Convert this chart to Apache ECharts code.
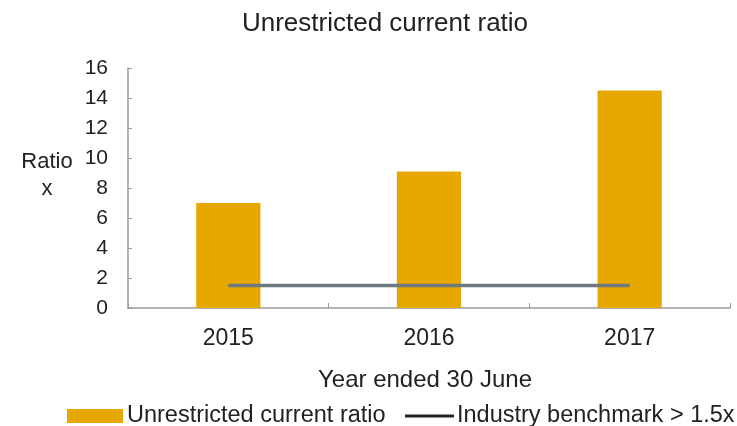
<!DOCTYPE html>
<html>
<head>
<meta charset="utf-8">
<script src="https://cdn.jsdelivr.net/npm/echarts@6/dist/echarts.min.js"></script>
<style>
  html, body { margin: 0; padding: 0; background: #fff; }
  #chart { width: 737px; height: 426px; }
</style>
</head>
<body>
<div id="chart"></div>
<script>
// Years on the category axis
const years = ['2015', '2016', '2017'];
// Unrestricted current ratio per year
const currentRatio = [7.0, 9.1, 14.5];
// Industry benchmark level
const benchmark = [1.5, 1.5, 1.5];
// Value axis ticks
const yMin = 0, yMax = 16, yStep = 2;

const FONT = '"Liberation Sans", Arial, sans-serif';
const TEXT = '#222';
const AXIS = '#9a9a9a';

const chart = echarts.init(document.getElementById('chart'));
chart.setOption({
  animation: false,
  textStyle: { fontFamily: FONT },
  title: [
    {
      text: 'Unrestricted current ratio',
      left: 380, top: 6, textAlign: 'center',
      textStyle: { fontFamily: FONT, fontSize: 26, fontWeight: 'normal', color: TEXT }
    },
    {
      text: 'Ratio\nx',
      left: 42, top: 143, textAlign: 'center',
      textStyle: { fontFamily: FONT, fontSize: 22, fontWeight: 'normal', color: TEXT, lineHeight: 27, align: 'center' }
    }
  ],
  grid: { left: 128, right: 7, top: 68, bottom: 118, containLabel: false },
  legend: [
    {
      data: [{ name: 'Unrestricted current ratio', icon: 'rect' }],
      left: 62, top: 399, itemWidth: 56, itemHeight: 14, itemGap: 4,
      textStyle: { fontFamily: FONT, fontSize: 23.5, color: TEXT, padding: [0, 0, 0, -1] }
    },
    {
      data: [{ name: 'Industry benchmark > 1.5x', icon: 'rect', itemStyle: { color: '#222' } }],
      left: 400, top: 399, itemWidth: 49, itemHeight: 3, itemGap: 4,
      textStyle: { fontFamily: FONT, fontSize: 23.5, color: TEXT, padding: [0, 0, 0, -2] }
    }
  ],
  xAxis: {
    type: 'category',
    data: years,
    boundaryGap: true,
    name: 'Year ended 30 June',
    nameLocation: 'middle',
    nameGap: 60,
    nameTextStyle: { fontFamily: FONT, fontSize: 24, color: TEXT, padding: [0, 0, 0, -8] },
    axisLine: { lineStyle: { color: AXIS, width: 1.5 } },
    axisTick: { show: true, inside: true, length: 5, lineStyle: { color: AXIS } },
    axisLabel: { fontFamily: FONT, fontSize: 23, color: TEXT, margin: 19 }
  },
  yAxis: {
    type: 'value',
    min: yMin, max: yMax, interval: yStep,
    axisLine: { show: true, lineStyle: { color: AXIS, width: 1.5 } },
    axisTick: { show: true, inside: true, length: 4, lineStyle: { color: AXIS } },
    splitLine: { show: false },
    axisLabel: { fontFamily: FONT, fontSize: 21, color: TEXT, margin: 20 }
  },
  series: [
    {
      name: 'Unrestricted current ratio',
      type: 'bar',
      data: currentRatio,
      barWidth: '32%',
      itemStyle: { color: '#E6A700' }
    },
    {
      name: 'Industry benchmark > 1.5x',
      type: 'line',
      data: benchmark,
      symbol: 'none',
      itemStyle: { color: '#6e7a80' },
      lineStyle: { color: '#6e7a80', width: 3.5 },
      z: 3
    }
  ]
});
</script>
</body>
</html>
